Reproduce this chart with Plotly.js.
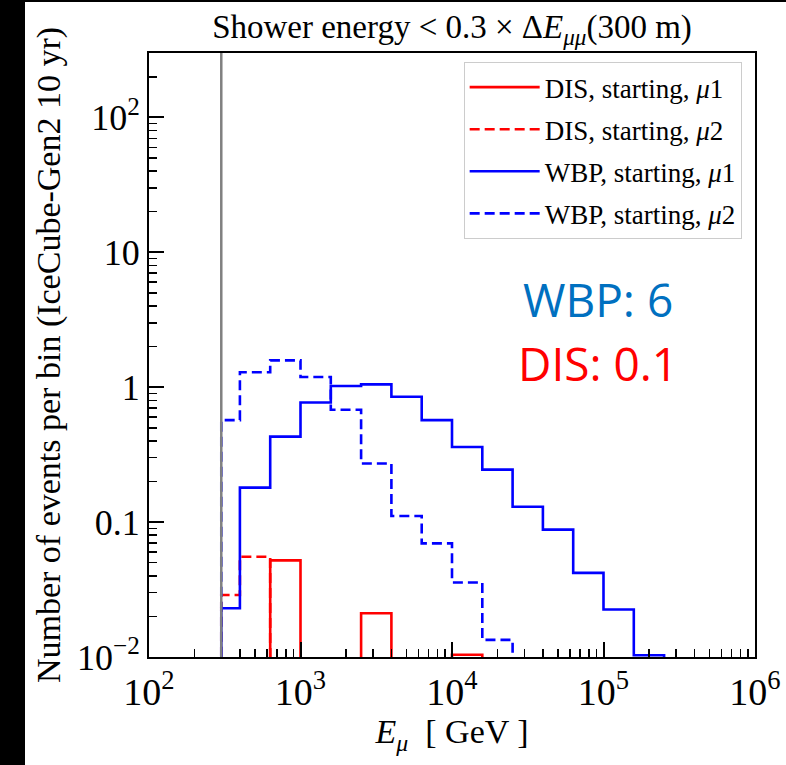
<!DOCTYPE html>
<html>
<head>
<meta charset="utf-8">
<script src="https://cdn.plot.ly/plotly-3.0.1.min.js"></script>
<style>
  html, body { margin: 0; padding: 0; background: #000; width: 786px; height: 765px; overflow: hidden; }
  #chart { position: absolute; left: 25px; top: 2px; width: 761px; height: 763px; }
</style>
</head>
<body>
<div id="chart"></div>
<script>
// Bin edges in GeV (0.2-decade bins, first bin starts at the 300 GeV threshold)
const binEdges = [300, 398.1, 631.0, 1000, 1584.9, 2511.9, 3981.1, 6309.6, 10000,
                  15848.9, 25118.9, 39810.7, 63095.7, 100000, 158489.3, 251188.6];

// Events per bin (0 = empty bin)
const disMu1 = [0, 0, 0.052, 0, 0, 0.0211, 0, 0, 0.0104, 0, 0, 0, 0, 0, 0];
const disMu2 = [0.0288, 0.0553, 0, 0, 0, 0, 0, 0, 0, 0, 0, 0, 0, 0, 0];
const wbpMu1 = [0.023, 0.18, 0.43, 0.77, 1.02, 1.05, 0.85, 0.57, 0.36, 0.245, 0.13, 0.088, 0.042, 0.0225, 0.0103];
const wbpMu2 = [0.57, 1.29, 1.58, 1.19, 0.68, 0.272, 0.111, 0.0695, 0.0357, 0.0134, 0, 0, 0, 0, 0];

const seriesNames = ['DIS, starting, <i>μ</i>1', 'DIS, starting, <i>μ</i>2',
                     'WBP, starting, <i>μ</i>1', 'WBP, starting, <i>μ</i>2'];

const thresholdE = 300;
const xTickVals = [1e2, 1e3, 1e4, 1e5, 1e6];
const xTickText = ['10<sup>2</sup>', '10<sup>3</sup>', '10<sup>4</sup>', '10<sup>5</sup>', '10<sup>6</sup>'];
const yTickVals = [1e-2, 1e-1, 1, 10, 1e2];
const yTickText = ['10<sup>−2</sup>', '0.1', '1', '10', '10<sup>2</sup>'];

const totals = ['WBP: 6', 'DIS: 0.1'];

const FLOOR = 1e-5; // empty bins drawn below the visible range
function stepTrace(vals, name, color, dash, group) {
  const n = vals.length;
  const xs = [binEdges[0]], ys = [FLOOR];
  for (let i = 0; i < n; i++) { xs.push(binEdges[i]); ys.push(vals[i] > 0 ? vals[i] : FLOOR); }
  xs.push(binEdges[n]); ys.push(FLOOR);
  return { x: xs, y: ys, type: 'scatter', mode: 'lines', name: name, legendgroup: group,
           line: { shape: 'hv', color: color, width: 2.6, dash: dash }, hoverinfo: 'skip' };
}

function minorVals(lo, hi) {
  const out = [];
  for (let d = lo; d < hi; d++) for (let k = 2; k <= 9; k++) out.push(k * Math.pow(10, d));
  return out;
}

const serif = 'Liberation Serif, Times New Roman, serif';
const traces = [
  stepTrace(disMu1, seriesNames[0], '#ff0000', 'solid', 'g1'),
  stepTrace(disMu2, seriesNames[1], '#ff0000', '10px,5px', 'g2'),
  stepTrace(wbpMu1, seriesNames[2], '#0000ff', 'solid', 'g3'),
  stepTrace(wbpMu2, seriesNames[3], '#0000ff', '10px,5px', 'g4')
];

const layout = {
  width: 761, height: 763,
  margin: { l: 124, r: 31, t: 51, b: 108 },
  paper_bgcolor: '#ffffff', plot_bgcolor: '#ffffff',
  showlegend: true,
  font: { family: serif, color: '#000' },
  title: { text: 'Shower energy &lt; 0.3 × Δ<i>E</i><sub><i>μμ</i></sub>(300 m)',
           font: { family: serif, size: 33, color: '#000' },
           x: 0.5, xref: 'paper', xanchor: 'center', y: 1, yref: 'paper', yanchor: 'bottom',
           pad: { b: 15 } },
  xaxis: {
    type: 'log', range: [2, 6], showgrid: false, zeroline: false,
    showline: true, linecolor: '#000', linewidth: 2, mirror: true,
    ticks: 'inside', ticklen: 15, tickwidth: 2, tickcolor: '#000',
    tickmode: 'array', tickvals: xTickVals, ticktext: xTickText,
    tickfont: { family: serif, size: 38, color: '#000' },
    minor: { ticks: 'inside', ticklen: 8, tickwidth: 1.5, tickcolor: '#000', tickmode: 'array',
             tickvals: minorVals(2, 6), showgrid: false },
    title: { text: '<i>E</i><sub><i>μ</i></sub>  [ GeV ]', font: { family: serif, size: 34, color: '#000' }, standoff: 8 }
  },
  yaxis: {
    type: 'log', range: [-2, Math.log10(300)], showgrid: false, zeroline: false,
    showline: true, linecolor: '#000', linewidth: 2, mirror: true,
    ticks: 'inside', ticklen: 15, tickwidth: 2, tickcolor: '#000',
    tickmode: 'array', tickvals: yTickVals, ticktext: yTickText,
    tickfont: { family: serif, size: 36, color: '#000' },
    minor: { ticks: 'inside', ticklen: 8, tickwidth: 1.5, tickcolor: '#000', tickmode: 'array',
             tickvals: minorVals(-2, 3), showgrid: false },
    title: { text: 'Number of events per bin (IceCube-Gen2 10 yr)', font: { family: serif, size: 34, color: '#000' }, standoff: 6 }
  },
  legend: {
    x: 0.978, xanchor: 'right', y: 0.985, yanchor: 'top',
    bgcolor: '#ffffff', bordercolor: '#cccccc', borderwidth: 1,
    font: { family: serif, size: 27, color: '#000' },
    traceorder: 'grouped', tracegroupgap: 4, itemwidth: 70
  },
  shapes: [{
    type: 'line', xref: 'x', yref: 'paper', x0: thresholdE, x1: thresholdE, y0: 0, y1: 1,
    line: { color: '#808080', width: 2.5 }, layer: 'above'
  }],
  annotations: [
    { text: totals[0], xref: 'paper', yref: 'paper', x: 0.741, y: 0.592, xanchor: 'center', yanchor: 'middle',
      showarrow: false, font: { family: 'Open Sans, sans-serif', size: 46, color: '#0070c0' } },
    { text: totals[1], xref: 'paper', yref: 'paper', x: 0.741, y: 0.486, xanchor: 'center', yanchor: 'middle',
      showarrow: false, font: { family: 'Open Sans, sans-serif', size: 46, color: '#ff0000' } }
  ]
};

Plotly.newPlot('chart', traces, layout, { displayModeBar: false, staticPlot: true });
</script>
</body>
</html>
